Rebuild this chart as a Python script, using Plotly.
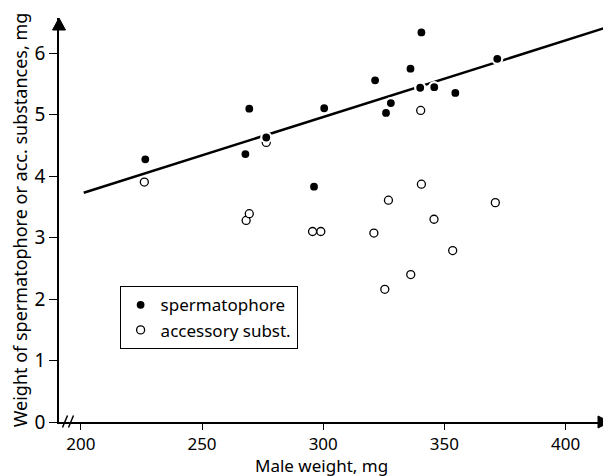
import plotly.graph_objects as go

# Data
male_weight = [226.6, 267.9, 269.5, 276.5, 296.2, 300.4, 321.4, 325.9, 327.9, 336.0, 340.0, 340.5, 345.8, 354.5, 371.8]
spermatophore = [4.275, 4.36, 5.10, 4.63, 3.83, 5.106, 5.56, 5.03, 5.19, 5.75, 5.44, 6.34, 5.45, 5.355, 5.91]

male_weight_acc = [226.2, 268.2, 269.5, 276.5, 295.6, 299.0, 320.9, 325.4, 326.9, 336.1, 340.2, 340.5, 345.7, 353.4, 371.0]
accessory = [3.905, 3.28, 3.39, 4.55, 3.10, 3.10, 3.075, 2.16, 3.61, 2.40, 5.07, 3.87, 3.30, 2.79, 3.57]

fit_x = [201.2, 417.5]
fit_y = [3.73, 6.43]

x_ticks = [200, 250, 300, 350, 400]
y_ticks = [0, 1, 2, 3, 4, 5, 6]

FONT = "Noto Sans"

# page body adds an 8px offset; figure sized to fit the window exactly
W, H = 603, 468
ML, MR, MT, MB = 50.5, 1, 10, 54.3
PW = W - ML - MR
PH = H - MT - MB


def px(dx):
    return dx / PW


def py(dy):
    return dy / PH


fig = go.Figure()
fig.add_trace(go.Scatter(x=fit_x, y=fit_y, mode="lines",
                         line=dict(color="black", width=2.5),
                         showlegend=False, hoverinfo="skip"))
fig.add_trace(go.Scatter(x=male_weight_acc, y=accessory, mode="markers",
                         name="accessory subst.",
                         marker=dict(symbol="circle", size=8, color="white",
                                     line=dict(color="black", width=1.3))))
fig.add_trace(go.Scatter(x=male_weight, y=spermatophore, mode="markers",
                         name="spermatophore",
                         marker=dict(symbol="circle", size=10, color="black",
                                     line=dict(color="white", width=2.2))))

shapes = [
    # x axis arrowhead
    dict(type="path", xref="paper", yref="paper",
         path=f"M 1 0 L {1 - px(12)} {py(6)} L {1 - px(12)} {-py(6)} Z",
         fillcolor="black", line=dict(color="black", width=1)),
    # y axis arrowhead
    dict(type="path", xref="paper", yref="paper",
         path=f"M 0 1 L {-px(6.5)} {1 - py(12)} L {px(6.5)} {1 - py(12)} Z",
         fillcolor="black", line=dict(color="black", width=1)),
    # axis break //
    dict(type="line", xref="paper", yref="paper",
         x0=px(3.5), y0=py(-5.5), x1=px(8.5), y1=py(6.5),
         line=dict(color="black", width=1.5)),
    dict(type="line", xref="paper", yref="paper",
         x0=px(9.5), y0=py(-5.5), x1=px(14.5), y1=py(6.5),
         line=dict(color="black", width=1.5)),
]

annotations = [
    dict(text="Male weight, mg", xref="paper", yref="paper",
         x=px(313.5 - ML), y=-py(457 - (H - MB)), xanchor="center", yanchor="middle",
         showarrow=False, font=dict(size=17, family=FONT, color="black")),
]

fig.update_layout(
    width=W, height=H,
    margin=dict(l=ML, r=MR, t=MT, b=MB, autoexpand=False),
    paper_bgcolor="white", plot_bgcolor="white",
    font=dict(family=FONT, color="black", size=18),
    shapes=shapes,
    annotations=annotations,
    legend=dict(x=0.11, y=0.336, xanchor="left", yanchor="top",
                bordercolor="black", borderwidth=1, bgcolor="white",
                font=dict(size=17, family=FONT), itemwidth=30,
                traceorder="reversed"),
    xaxis=dict(range=[191, 418.3], tickvals=x_ticks, ticktext=[str(v) for v in x_ticks],
               automargin=False,
               showgrid=False, zeroline=False, showline=True, linecolor="black", linewidth=1.5,
               ticks="outside", ticklen=6, tickwidth=1.2, tickcolor="black",
               tickfont=dict(size=17, family=FONT)),
    yaxis=dict(range=[0, 6.575], tickvals=y_ticks, ticktext=[str(v) for v in y_ticks],
               automargin=False,
               showgrid=False, zeroline=False, showline=True, linecolor="black", linewidth=1.5,
               ticks="outside", ticklen=8, tickwidth=1.2, tickcolor="black",
               tickfont=dict(size=19, family=FONT),
               title=dict(text="Weight of spermatophore or acc. substances, mg",
                          font=dict(size=18, family=FONT), standoff=2)),
)

fig.write_html("out.html")
